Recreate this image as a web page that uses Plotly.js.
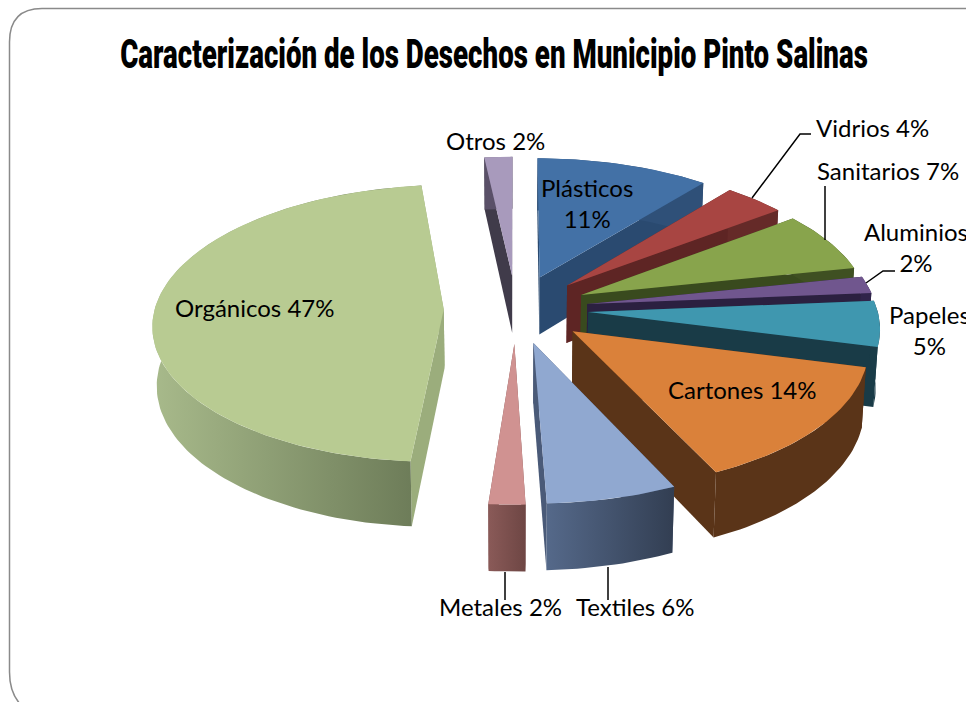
<!DOCTYPE html>
<html><head><meta charset="utf-8">
<script src="https://cdn.plot.ly/plotly-3.0.1.min.js"></script>
<style>html,body{margin:0;padding:0;background:#fff;overflow:hidden}#c{width:966px;height:702px}text{font-variant-ligatures:none}</style>
</head><body><div id="c"></div>
<script>
// ---- data ----
const categories = ["Plásticos","Vidrios","Sanitarios","Aluminios","Papeles","Cartones","Textiles","Metales","Orgánicos","Otros"];
const values = [10.85,3.85,7,2,5.3,14,6.45,1.8,47,1.75];
const topColors  = ["#4371A6","#A84542","#88A44C","#70568E","#3F97AF","#DA813A","#90A8D0","#D09291","#B8CB92","#A89ABC"];
const sideColors = ["#2A4A70","#5E2524","#394A1E","#2B2040","#193B47","#5A3418","#4A5A78","#7F5150","#9BAD7C","#403B4A"];
const wallColors = ["#2F5078","#652A28","#3F5022","#30244A","#1A3C48","#5A3418",["#55698A","#323E52"],["#8A5A58","#6E4644"],["#A8BA8B","#6B7A57"],"#5A5068"];
const labelTexts = ["Plásticos<br>11%","Vidrios 4%","Sanitarios 7%","Aluminios<br>2%","Papeles<br>5%","Cartones 14%","Textiles 6%","Metales 2%","Orgánicos 47%","Otros 2%"];
const chartTitle = "Caracterización de los Desechos en Municipio Pinto Salinas";

// ---- geometry of the exploded, perspective pie ----
const cx=516, cy=309, rx=289, ry=137, persp=0.1, depth=58.5, explode=0.25, shrink=0.012;
function proj(X,Y,z){
  const f=1/(1+persp*Y);
  return [cx+rx*X*f*(1-shrink*z), cy-ry*Y*f+depth*z*f];
}
const total=values.reduce((a,b)=>a+b,0);
let acc=0;
const slices=values.map((v,i)=>{
  const a0=acc/total*2*Math.PI; acc+=v; const a1=acc/total*2*Math.PI, m=(a0+a1)/2;
  return {i,a0,a1,ox:explode*Math.sin(m),oy:explode*Math.cos(m)};
});
function poly(pts,color,name){
  const t={x:pts.map(p=>p[0]),y:pts.map(p=>p[1]),type:"scatter",mode:"lines",fill:"toself",
    line:{width:0},hoverinfo:"text",text:name,showlegend:false};
  if(Array.isArray(color)){
    t.fillgradient={type:"horizontal",colorscale:[[0,color[0]],[1,color[1]]]};
  } else t.fillcolor=color;
  return t;
}
const traces=[];
slices.slice().sort((a,b)=>b.oy-a.oy).forEach(s=>{
  const n=Math.max(6,Math.ceil((s.a1-s.a0)*40));
  const rim=z=>{const r=[];for(let k=0;k<=n;k++){const t=s.a0+(s.a1-s.a0)*k/n;r.push(proj(s.ox+Math.sin(t),s.oy+Math.cos(t),z));}return r;};
  const top=rim(0),bot=rim(1),a=proj(s.ox,s.oy,0),ab=proj(s.ox,s.oy,1),nm=categories[s.i];
  // radial walls, outer wall, then the top face
  traces.push(poly([a,top[0],bot[0],ab,a],sideColors[s.i],nm));
  traces.push(poly([a,top[n],bot[n],ab,a],sideColors[s.i],nm));
  traces.push(poly(top.concat(bot.slice().reverse()).concat([top[0]]),wallColors[s.i],nm));
  traces.push(poly([a].concat(top).concat([a]),topColors[s.i],nm));
});

const labelPos=[[587,203,"center"],[872,127,"center"],[888,170,"center"],[862,247,"left"],[887,330,"left"],[742,389,"center"],[635,606,"center"],[500,606,"center"],[254,307,"center"],[495,140,"center"]];
const font={family:"Lato, 'Open Sans', sans-serif",size:24,color:"#000"};
const annotations=labelTexts.map((t,i)=>({x:labelPos[i][0],y:labelPos[i][1],xref:"x",yref:"y",text:t,showarrow:false,
  xanchor:labelPos[i][2],yanchor:"middle",align:"center",font}));
const leaders=[[[752,198],[800,134],[811,134]],[[825,240],[825,186]],[[866,283],[883,271],[895,271]],[[505,572],[505,600]],[[608,567],[608,600]]];
const shapes=leaders.map(l=>({type:"path",xref:"x",yref:"y",line:{color:"#000",width:1.5},
  path:"M"+l.map(p=>p.join(",")).join(" L")}));
shapes.push({type:"path",xref:"x",yref:"y",layer:"below",line:{color:"#8a8a8a",width:1.5},
  path:"M970,8.5 L42,8.5 Q9.5,8.5 9.5,42 L9.5,672 Q9.5,700 30,712"});

Plotly.newPlot("c",traces,{
  width:966,height:702,margin:{l:0,r:0,t:0,b:0},paper_bgcolor:"#fff",plot_bgcolor:"#fff",showlegend:false,
  title:{text:chartTitle,x:0.511,xanchor:"center",y:0.923,yanchor:"middle",
    font:{family:"Roboto, 'DejaVu Sans', sans-serif",size:40,color:"#000",weight:900}},
  xaxis:{range:[0,966],visible:false,fixedrange:true},
  yaxis:{range:[702,0],visible:false,fixedrange:true},
  annotations,shapes
},{displayModeBar:false,staticPlot:true}).then(gd=>{
  // the reference title is a condensed face: squeeze the real text to its measured width
  const t=gd.querySelector(".gtitle");
  if(t){
    const b=t.getBBox(), mid=494, k=748/b.width;
    t.setAttribute("x",mid);t.setAttribute("text-anchor","middle");
    t.setAttribute("transform","translate("+mid+" 0) scale("+k+" 1) translate("+(-mid)+" 0)");
  }
});
</script></body></html>
